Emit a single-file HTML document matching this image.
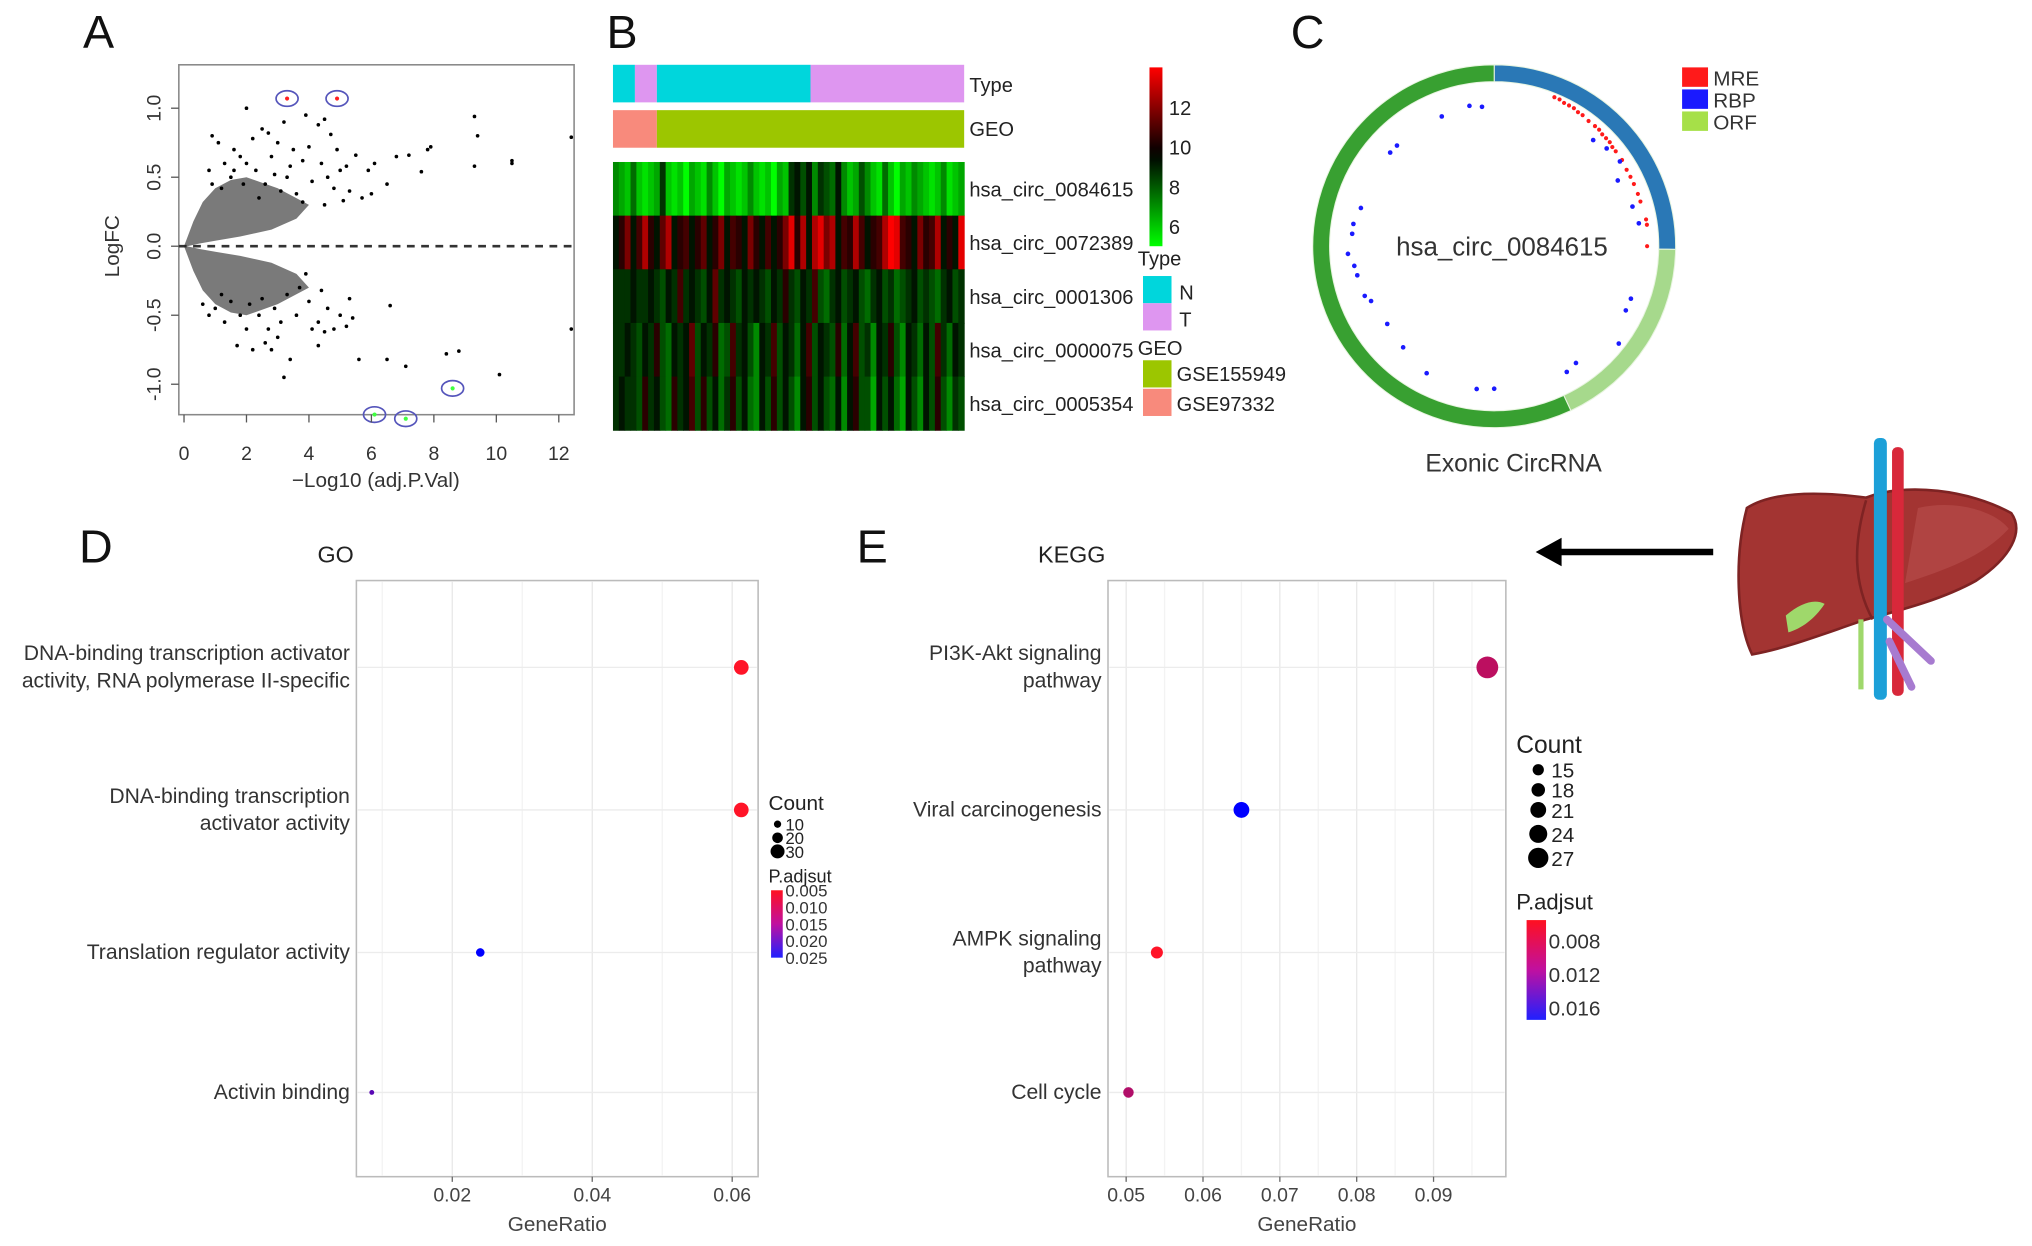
<!DOCTYPE html>
<html><head><meta charset="utf-8"><style>
html,body{margin:0;padding:0;background:#fff;width:2032px;height:1246px;overflow:hidden}
svg{display:block;font-family:"Liberation Sans",sans-serif}
</style></head><body>
<svg id="fig" width="2032" height="1246" viewBox="0 0 1568 961.5" preserveAspectRatio="none" xmlns="http://www.w3.org/2000/svg">
<g font-size="36" fill="#111">
<text x="64" y="37">A</text>
<text x="468" y="37">B</text>
<text x="996" y="37">C</text>
<text x="61" y="434">D</text>
<text x="661" y="434">E</text>
</g>
<g id="pa"></g>
<g id="pb"></g>
<g id="pc"></g>
<g id="pd"></g>
<g id="pe"></g>
<g>
<line x1="1322" y1="426" x2="1200" y2="426" stroke="#000" stroke-width="5"/>
<polygon points="1185,426 1205,415 1205,437" fill="#000"/>
</g>
<g>
<path d="M1348,392 C1370,378 1410,380 1440,384 C1470,372 1520,378 1552,396 C1562,410 1552,430 1525,448 C1500,462 1470,470 1440,478 C1410,488 1380,500 1352,505 C1340,480 1338,430 1348,392 Z" fill="#a33432" stroke="#7e2323" stroke-width="2"/>
<path d="M1480,392 C1510,385 1540,395 1550,408 C1530,430 1500,440 1470,450 Z" fill="#b9504c" opacity="0.6"/>
<path d="M1440,386 C1430,420 1430,450 1445,478" stroke="#7e2323" stroke-width="2" fill="none"/>
<path d="M1378,475 C1390,465 1400,462 1408,466 C1400,478 1390,485 1380,488 Z" fill="#9fd86b"/>
<path d="M1436,478 L1436,532" stroke="#9fd86b" stroke-width="4"/>
<rect x="1446" y="338" width="10" height="202" rx="4" fill="#1ca0d8"/>
<rect x="1460" y="345" width="9" height="192" rx="4" fill="#d8283a"/>
<path d="M1456,478 L1490,510 M1458,495 L1475,530" stroke="#a77bd0" stroke-width="6" stroke-linecap="round"/>
</g>
</svg>
<script>
const NS='http://www.w3.org/2000/svg';
function mk(p,tag,attrs,txt){const e=document.createElementNS(NS,tag);for(const k in attrs)e.setAttribute(k,attrs[k]);if(txt!==undefined)e.textContent=txt;p.appendChild(e);return e;}

// ---------- Panel A data ----------
const volcX=[2.0,3.9,0.9,1.1,1.6,2.5,2.7,3.2,4.3,4.5,4.7,9.3,9.4,12.4,10.5,10.5,9.3,7.2,6.8,7.8,7.9,7.6,6.1,5.9,6.0,5.5,5.0,4.4,3.8,3.5,3.0,2.2,1.8,1.3,0.8,1.5,2.3,2.9,3.3,4.1,4.8,5.3,5.7,4.5,3.6,2.6,1.9,1.2,2.8,3.4,4.0,4.6,5.1,3.1,3.8,2.4,2.0,1.6,0.9,4.9,5.2,6.5,
2.0,3.2,3.4,2.2,1.7,2.6,2.8,3.0,4.3,4.5,4.8,5.2,5.4,5.3,5.6,6.6,6.5,7.1,8.4,8.8,10.1,12.4,3.9,4.0,4.3,3.6,2.9,2.4,1.3,0.8,1.0,1.5,2.1,3.3,4.6,5.0,4.4,3.1,2.7,1.8,2.5,3.7,4.1,1.2,0.6];
const volcY=[1.0,0.95,0.8,0.75,0.7,0.85,0.82,0.9,0.88,0.92,0.81,0.94,0.8,0.79,0.62,0.6,0.58,0.66,0.65,0.7,0.72,0.54,0.6,0.55,0.38,0.66,0.55,0.6,0.62,0.7,0.75,0.78,0.65,0.6,0.55,0.5,0.55,0.52,0.5,0.47,0.42,0.4,0.35,0.3,0.38,0.45,0.45,0.42,0.65,0.58,0.72,0.5,0.33,0.4,0.32,0.35,0.6,0.55,0.45,0.7,0.58,0.45,
-0.6,-0.95,-0.82,-0.75,-0.72,-0.7,-0.75,-0.66,-0.72,-0.62,-0.6,-0.58,-0.52,-0.38,-0.82,-0.43,-0.82,-0.87,-0.78,-0.76,-0.93,-0.6,-0.2,-0.4,-0.55,-0.5,-0.45,-0.5,-0.55,-0.5,-0.45,-0.4,-0.42,-0.35,-0.45,-0.5,-0.32,-0.55,-0.6,-0.5,-0.38,-0.3,-0.6,-0.35,-0.42];
const coneX=[0,0.3,0.6,1.0,1.5,2.0,2.5,3.0,3.5,4.0,3.6,2.8,1.8,1.0,0.5,0.1];
const coneUp=[0,0.18,0.32,0.42,0.48,0.5,0.46,0.42,0.36,0.3,0.2,0.12,0.07,0.04,0.02,0];
const coneDn=[0,-0.18,-0.32,-0.42,-0.48,-0.5,-0.46,-0.42,-0.36,-0.3,-0.2,-0.12,-0.07,-0.04,-0.02,0];
const hiX=[3.3,4.9,8.6,6.1,7.1];
const hiY=[1.07,1.07,-1.03,-1.22,-1.25];
const hiCol=['#ff2020','#ff2020','#40ff40','#40ff40','#40ff40'];
const aXTicks=[0,2,4,6,8,10,12];
const aYTicks=[-1.0,-0.5,0.0,0.5,1.0];

(function(){
const g=document.getElementById('pa');
const sx=v=>142+v*24.1, sy=v=>190-v*106.5;
const box=mk(g,'rect',{x:138,y:50,width:305,height:270,fill:'none',stroke:'#888','stroke-width':1.2});


const dl=mk(g,'line',{x1:138,x2:443,y1:sy(0),y2:sy(0),stroke:'#333','stroke-width':2,'stroke-dasharray':'6,5'});


[coneUp,coneDn].forEach((arr,k)=>{
 const p=mk(g,'polygon',{points:coneX.map((x,i)=>sx(x)+','+sy(arr[i])).join(' '),fill:'#222',opacity:0.6});
 
 
});
volcX.forEach((x,i)=>{
 const c=mk(g,'circle',{cx:sx(x),cy:sy(volcY[i]),r:1.4,fill:'#000'});
 
 
});
hiX.forEach((x,i)=>{
 const c=mk(g,'circle',{cx:sx(x),cy:sy(hiY[i]),r:1.6,fill:hiCol[i]});
 
 
 const e=mk(g,'ellipse',{cx:sx(x),cy:sy(hiY[i]),rx:8.5,ry:6,fill:'none',stroke:'#5555bb','stroke-width':1.3});
 
 
});
aXTicks.forEach(v=>{
 mk(g,'line',{x1:sx(v),x2:sx(v),y1:320,y2:326,stroke:'#555'});
 const t=mk(g,'text',{x:sx(v),y:355,'font-size':15,'text-anchor':'middle',fill:'#333'},String(v));
 
 
});
aYTicks.forEach(v=>{
 mk(g,'line',{x1:132,x2:138,y1:sy(v),y2:sy(v),stroke:'#555'});
 const t=mk(g,'text',{x:0,y:0,'font-size':15,'text-anchor':'middle',fill:'#333',transform:`translate(124,${sy(v)}) rotate(-90)`},v.toFixed(1));
 
 
});
const xt=mk(g,'text',{x:290,y:376,'font-size':16,'text-anchor':'middle',fill:'#333'},'\u2212Log10 (adj.P.Val)');


const yt=mk(g,'text',{x:0,y:0,'font-size':16,'text-anchor':'middle',fill:'#333',transform:'translate(92,190) rotate(-90)'},'LogFC');


})();

// ---------- Panel B data ----------
const rowNames=['hsa_circ_0084615','hsa_circ_0072389','hsa_circ_0001306','hsa_circ_0000075','hsa_circ_0005354'];
const hmRows=[
[7,6.5,6,7.5,6,5.5,6,6.5,8.5,6,5.5,6,5,6.5,6,5.5,7,6,5,6.5,6,5.5,6,7,6,5.5,6,5,6.5,6,8.5,9,8,9,7,8.5,8,7.5,9,7,6,6.5,8,7,6,5.5,7.5,6,5,6.5,6,7,6.5,6,5.5,6,7,5.5,6,6.5],
[9,9.5,11,9,10,12,9.5,9,10.5,12,9,9.5,10,9,9.5,10.5,9,9.5,11,9,10,9.5,9,11,9.5,9,10,9,9.5,11,13,9.5,12,9,12,13,11,12,9,10,9.5,12,10,9,9.5,10,12,13.5,13,10,9.5,9,11,9.5,10,12,9,9.5,9,13],
[8.5,8.5,8.5,9,8.5,8.5,9,8.5,8,9,8.5,10,8.5,9,8.5,8,9,10.5,8.5,9,8.5,8,9,8.5,9,8.5,8,9,8.5,9.5,8.5,8,9,8.5,10,8,7.5,8.5,9,8,8.5,9,8,7.5,8.5,9,8,8.5,7.5,8,8.5,9,8,8.5,8,7.5,8.5,9,8,8.5],
[8.5,8.5,9,8.5,8,9,8.5,9.5,8,7.5,9,8.5,9,10.5,8,9,8.5,9.5,7.5,8,10,8.5,9,8,7,9,8.5,10,8,9,8.5,7.5,9,10,8,9,8.5,8,9.5,7.5,9,10,8,8.5,7,9,8.5,9.5,8,7,9,8.5,7.5,9,8,10,8.5,7.5,9,8.5],
[8.5,9,8.5,8.5,8,9.5,8.5,9,8,7.5,9.5,8.5,9,10,8,9.5,8,9,7.5,8.5,9.5,8,9,7.5,7,9,8,9.5,8,9,8,7,9,9.5,8,9,8,7.5,9,7,9,9.5,8,8,6.5,9,8,9,7.5,6.5,9,8,7,9,8,9.5,8,7,8.5,8]];
const typeSeg=[['N',0,2],['T',2,4],['N',4,18],['T',18,32]];
const geoSeg=[['GSE97332',0,4],['GSE155949',4,32]];
const cbTicks=[6,8,10,12];

function hmColor(v){
 if(v<=9){const t=Math.max(0,Math.min(1,(9-v)/4));return `rgb(0,${Math.round(20+t*235)},0)`;}
 const t=Math.max(0,Math.min(1,(v-9)/4.5));return `rgb(${Math.round(15+t*240)},0,0)`;
}
(function(){
const g=document.getElementById('pb');
const x0=473,x1=744,W=x1-x0;
const typeCol={N:'#00d6dc',T:'#de96f0'}, geoCol={GSE97332:'#f88a7c',GSE155949:'#9cc600'};
typeSeg.forEach(s=>{const r=mk(g,'rect',{x:x0+W*s[1]/32,y:50,width:W*(s[2]-s[1])/32,height:29,fill:typeCol[s[0]]});
 
 });
geoSeg.forEach(s=>{const r=mk(g,'rect',{x:x0+W*s[1]/32,y:85,width:W*(s[2]-s[1])/32,height:29,fill:geoCol[s[0]]});
 
 });
const nC=hmRows[0].length, cw=W/nC, rh=207/5;
hmRows.forEach((row,ri)=>{row.forEach((v,ci)=>{
 const r=mk(g,'rect',{x:x0+ci*cw,y:125+ri*rh,width:cw+0.4,height:rh+0.4,fill:hmColor(v)});
 
 });
 const t=mk(g,'text',{x:748,y:125+ri*rh+rh/2+6,'font-size':15.5,fill:'#222'},rowNames[ri]);
 
 
});
[['Type',66],['GEO',100]].forEach(a=>{const t=mk(g,'text',{x:748,y:a[1]+5,'font-size':15.5,fill:'#222'},a[0]);
 
 });
const defs=mk(g,'defs',{});const lg=mk(defs,'linearGradient',{id:'hmg',x1:0,y1:1,x2:0,y2:0});
mk(lg,'stop',{offset:'0',  'stop-color':'#00ff00'});mk(lg,'stop',{offset:'0.48','stop-color':'#001000'});mk(lg,'stop',{offset:'0.55','stop-color':'#100000'});mk(lg,'stop',{offset:'1','stop-color':'#ff0000'});
const cb=mk(g,'rect',{x:887,y:52,width:10,height:138,fill:'url(#hmg)'});


const cy=v=>190-(v-5)*(138/9);
cbTicks.forEach(v=>{const t=mk(g,'text',{x:902,y:cy(v)+6,'font-size':15.5,fill:'#222'},String(v));
 
 });
const legItems=[['Type',878,205,null],['N',910,231,'#00d6dc',213],['T',910,252,'#de96f0',234],['GEO',878,274,null],['GSE155949',908,294,'#9cc600',278],['GSE97332',908,317,'#f88a7c',300]];
legItems.forEach(l=>{
 if(l[3]){const r=mk(g,'rect',{x:882,y:l[4],width:22,height:21,fill:l[3]});
  
  }
 const t=mk(g,'text',{x:l[1],y:l[2],'font-size':15.5,fill:'#222'},l[0]);
 
 
});
})();

// ---------- Panel C data ----------
const ringNames=['RBP','ORF','Exon'];
const ringStart=[0,91,155];
const ringEnd=[91,155,360];
const blueAng=[355,350,338,316,312,286,279,275,267,262,258,249,234,222,208,187,180,150,145,128,116,111,43,49,56,74,81,62,246];
const blueR=[108,110,108,108,108,107,110,110,113,109,108,107,102,105,111,111,110,112,110,122,113,113,112,115,117,111,113,108,104];
const redAng=[22,24,26,28,30,32,34,37,40,42,44,46,48,50,52,56,60,63,66,70,73,80,82,90];
const redR=[124,124,123,123,123,122,122,121,121,121,120,120,120,119,119,119,118,118,118,118,118,119,119,118];
(function(){
const g=document.getElementById('pc');
const cx=1153,cy=190,R=140,r0=127;
const pt=(a,r)=>[cx+r*Math.sin(a*Math.PI/180),cy-r*Math.cos(a*Math.PI/180)];
const cols=['#2a78b6','#a6d98c','#38a031'];
ringNames.forEach((n,i)=>{
 const a0=ringStart[i],a1=ringEnd[i],lg=(a1-a0)>180?1:0;
 const p1=pt(a0,R),p2=pt(a1,R),p3=pt(a1,r0),p4=pt(a0,r0);
 const p=mk(g,'path',{d:`M${p1} A${R},${R} 0 ${lg} 1 ${p2} L${p3} A${r0},${r0} 0 ${lg} 0 ${p4} Z`,fill:cols[i],stroke:'#e8f5e0','stroke-width':0.8});
 
 
});
redAng.forEach((a,i)=>{const q=pt(a,redR[i]);const c=mk(g,'circle',{cx:q[0],cy:q[1],r:1.6,fill:'#ff1a1a'});
 
 });
blueAng.forEach((a,i)=>{const q=pt(a,blueR[i]);const c=mk(g,'circle',{cx:q[0],cy:q[1],r:1.8,fill:'#1a1aff'});
 
 });
const t=mk(g,'text',{x:1159,y:197,'font-size':20,'text-anchor':'middle',fill:'#333'},'hsa_circ_0084615');


const t2=mk(g,'text',{x:1168,y:364,'font-size':19,'text-anchor':'middle',fill:'#333'},'Exonic CircRNA');


[['MRE','#ff1a1a',52],['RBP','#1a1aff',69],['ORF','#a6e048',86]].forEach(l=>{
 const r=mk(g,'rect',{x:1298,y:l[2],width:20,height:15,fill:l[1]});
 
 
 const tt=mk(g,'text',{x:1322,y:l[2]+14,'font-size':16,fill:'#333'},l[0]);
 
 
});
})();

// ---------- Panels D / E data ----------
const goTerms=[['DNA-binding transcription activator','activity, RNA polymerase II-specific'],['DNA-binding transcription','activator activity'],['Translation regulator activity'],['Activin binding']];
const goRatio=[0.0613,0.0613,0.024,0.0085];
const goCount=[32,32,14,3];
const goPadj=[0.005,0.005,0.025,0.018];
const goXTicks=[0.02,0.04,0.06];
const goCountLeg=[10,20,30];
const goPadjLeg=[0.005,0.010,0.015,0.020,0.025];
const keggTerms=[['PI3K-Akt signaling','pathway'],['Viral carcinogenesis'],['AMPK signaling','pathway'],['Cell cycle']];
const keggRatio=[0.097,0.065,0.054,0.0503];
const keggCount=[29,21,16,14];
const keggPadj=[0.009,0.0175,0.006,0.0095];
const keggXTicks=[0.05,0.06,0.07,0.08,0.09];
const keggCountLeg=[15,18,21,24,27];
const keggPadjLeg=[0.008,0.012,0.016];

function padjColor(v,lo,hi){const t=Math.max(0,Math.min(1,(v-lo)/(hi-lo)));return `rgb(${Math.round(255*(1-t))},${Math.round(20*(1-t))},${Math.round(40+215*t)})`;}
function dotPlot(id,o){
 const g=document.getElementById(id);
 const sx=v=>o.px0+(v-o.d0)*o.k;
 const rowsY=[515,625,735,843];
 const tt=mk(g,'text',{x:o.titleX,y:434,'font-size':18,fill:'#222'},o.title);
 
 
 const bx=mk(g,'rect',{x:o.bx,y:448,width:o.bw,height:460,fill:'#fff',stroke:'#bbb','stroke-width':1.2});
 
 
 o.minor.forEach(v=>mk(g,'line',{x1:sx(v),x2:sx(v),y1:449,y2:907,stroke:'#f3f3f3','stroke-width':1}));
 o.ticks.forEach(v=>{
  mk(g,'line',{x1:sx(v),x2:sx(v),y1:449,y2:907,stroke:'#e8e8e8','stroke-width':1});
  mk(g,'line',{x1:sx(v),x2:sx(v),y1:908,y2:912,stroke:'#666'});
  const t=mk(g,'text',{x:sx(v),y:927,'font-size':15,'text-anchor':'middle',fill:'#444'},String(v));
  
  
 });
 rowsY.forEach(y=>mk(g,'line',{x1:o.bx+1,x2:o.bx+o.bw-1,y1:y,y2:y,stroke:'#ececec'}));
 o.terms.forEach((lines,i)=>{
  const y=rowsY[i], n=lines.length;
  lines.forEach((s,j)=>{const t=mk(g,'text',{x:o.bx-5,y:y+5+(j-(n-1)/2)*21,'font-size':16.3,'text-anchor':'end',fill:'#333'},s);
   
   });
  const c=mk(g,'circle',{cx:sx(o.ratio[i]),cy:y,r:o.rs(o.count[i]),fill:padjColor(o.padj[i],o.plo,o.phi)});
  
  
 });
 const xl=mk(g,'text',{x:o.bx+o.bw/2,y:950,'font-size':16,'text-anchor':'middle',fill:'#444'},'GeneRatio');
 
 
 const L=o.leg;
 const ct=mk(g,'text',{x:L.x,y:L.cy,'font-size':L.fs+3,fill:'#222'},'Count');
 
 
 o.countLeg.forEach((v,i)=>{const y=L.cy+L.c0+i*L.cd[i];
  const c=mk(g,'circle',{cx:L.x+L.dx,cy:y,r:o.rs(v),fill:'#000'});
  
  
  const t=mk(g,'text',{x:L.x+L.dx+L.tx,y:y+L.fs*0.38,'font-size':L.fs,fill:'#222'},String(v));
  
  });
 const pt=mk(g,'text',{x:L.x,y:L.py,'font-size':L.fs+1,fill:'#222'},'P.adjsut');
 
 
 const gid=id+'g';const defs=mk(g,'defs',{});const lg=mk(defs,'linearGradient',{id:gid,x1:0,y1:0,x2:0,y2:1});
 mk(lg,'stop',{offset:'0','stop-color':'#ff1020'});mk(lg,'stop',{offset:'0.5','stop-color':'#c010a0'});mk(lg,'stop',{offset:'1','stop-color':'#2020ff'});
 const bar=mk(g,'rect',{x:L.bx,y:L.by0,width:L.bw,height:L.by1-L.by0,fill:`url(#${gid})`});
 
 
 o.padjLeg.forEach(v=>{const y=L.by0+(v-L.b0)/(L.b1-L.b0)*(L.by1-L.by0);
  const t=mk(g,'text',{x:L.bx+L.bw+2,y:y+L.fs*0.38,'font-size':L.fs,fill:'#333'},v.toFixed(3));
  
  });
}
dotPlot('pd',{title:'GO',titleX:245,bx:275,bw:310,px0:349,d0:0.02,k:5400,ticks:goXTicks,minor:[0.01,0.03,0.05],
 terms:goTerms,ratio:goRatio,count:goCount,padj:goPadj,plo:0.005,phi:0.025,rs:c=>1.5+c*0.13,
 countLeg:goCountLeg,padjLeg:goPadjLeg,
 leg:{x:593,cy:625,fs:13,dx:7,tx:6,c0:11,cd:[10.5,10.5,10.5],py:681,bx:595,bw:9,by0:687,by1:739,b0:0.005,b1:0.025}});
dotPlot('pe',{title:'KEGG',titleX:801,bx:855,bw:307,px0:869,d0:0.05,k:5930,ticks:keggXTicks,minor:[0.055,0.065,0.075,0.085,0.095],
 terms:keggTerms,ratio:keggRatio,count:keggCount,padj:keggPadj,plo:0.006,phi:0.0175,rs:c=>c*0.29,
 countLeg:keggCountLeg,padjLeg:keggPadjLeg,
 leg:{x:1170,cy:581,fs:16,dx:17,tx:10,c0:13,cd:[15.5,15.5,15.5,16.5,17],py:702,bx:1178,bw:15,by0:710,by1:787,b0:0.0055,b1:0.0175}});
</script>
</body></html>
